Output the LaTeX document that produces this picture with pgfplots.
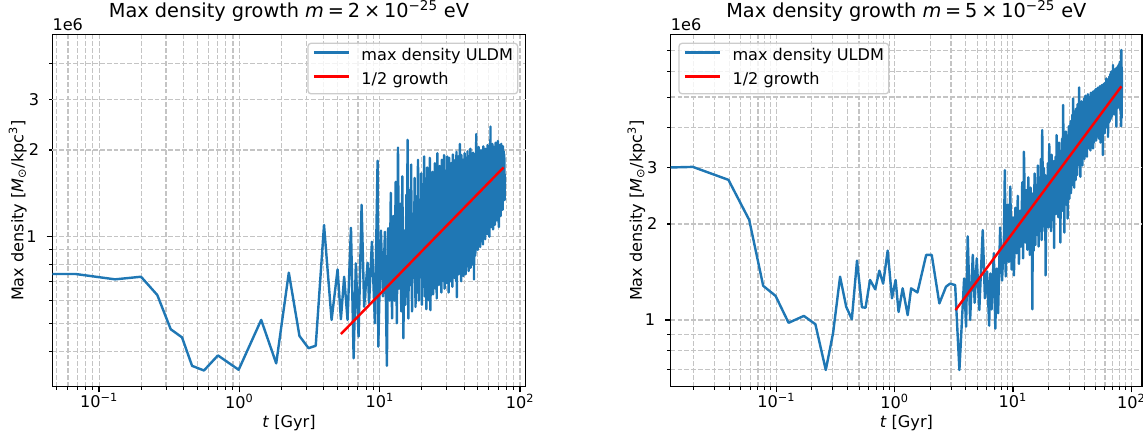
\documentclass[border=0pt]{standalone}
\usepackage{fontspec}
\setmainfont{DejaVu Sans}
\usepackage{pgfplots}
\usepackage{pgfplotstable}
\pgfplotsset{compat=1.18}

\definecolor{mplblue}{HTML}{1F77B4}
\definecolor{gridgray}{HTML}{C4C4C4}
\definecolor{legendedge}{HTML}{CCCCCC}

\newcommand{\labelfont}{\fontsize{11.6}{13.9}\selectfont}
\newcommand{\titlefont}{\fontsize{13.9}{16.7}\selectfont}
\newcommand{\decade}[1]{10\textsuperscript{#1}}

% maximum density, m = 2e-25 eV  (t in Gyr, rho in 1e6 Msun/kpc^3)
\pgfplotstableread[row sep=\\]{
t rho\\
0.030 0.742\\ 0.068 0.742\\ 0.130 0.711\\ 0.199 0.726\\ 0.260 0.627\\ 0.324 0.477\\ 0.390 0.447\\ 0.460 0.356\\
0.559 0.343\\ 0.703 0.387\\ 0.988 0.345\\ 1.43 0.514\\ 1.83 0.363\\ 2.25 0.750\\ 2.68 0.452\\ 3.11 0.410\\
3.50 0.418\\ 4.01 1.098\\ 4.54 0.514\\ 5.01 0.770\\ 5.29 0.517\\ 5.58 0.726\\ 5.90 0.514\\ 6.24 1.074\\
6.52 0.378\\ 6.76 0.808\\ 7.07 0.450\\ 7.43 1.290\\ 7.75 0.571\\ 8.20 0.812\\ 8.40 0.587\\ 8.80 0.960\\
9.24 0.500\\ 9.66 1.835\\ 9.77 0.415\\ 10.20 1.050\\ 10.55 0.620\\ 10.90 1.040\\ 11.25 0.356\\ 11.50 1.070\\
11.75 0.600\\
12.00 1.42\\ 12.25 0.52\\ 12.50 1.18\\ 12.75 0.60\\ 13.00 1.55\\ 13.25 0.50\\ 13.50 2.04\\ 13.75 0.66\\
14.00 1.30\\ 14.25 0.55\\ 14.50 1.62\\ 14.75 0.444\\ 15.00 1.05\\ 15.25 0.58\\ 15.50 1.40\\ 15.60 0.62\\
15.80 2.17\\ 16.00 0.52\\ 16.25 1.45\\ 16.50 0.68\\ 16.75 1.78\\ 17.00 0.55\\ 17.25 1.20\\ 17.50 0.72\\
17.75 1.60\\ 18.00 0.57\\ 18.25 1.38\\ 18.50 0.64\\ 18.75 1.85\\ 19.00 0.60\\ 19.25 1.10\\ 19.50 0.78\\
19.75 1.66\\ 20.00 0.58\\ 20.25 1.52\\ 20.50 0.70\\ 20.75 1.90\\ 21.00 0.62\\ 21.25 1.25\\ 21.50 0.56\\
21.75 1.74\\ 22.00 0.80\\ 22.25 1.42\\ 22.50 0.60\\ 22.75 1.88\\ 23.00 0.556\\ 23.25 1.30\\ 23.50 0.74\\
23.75 1.68\\ 24.00 0.63\\ 24.25 1.55\\ 24.50 0.85\\ 24.75 1.80\\ 25.00 0.66\\ 25.25 1.40\\ 25.50 0.61\\
25.75 1.95\\ 26.00 0.72\\ 26.25 1.48\\ 26.50 0.68\\ 26.75 1.76\\ 27.00 0.90\\ 27.25 1.60\\ 27.50 0.64\\
27.75 1.85\\ 28.00 0.78\\ 28.25 1.35\\ 28.50 0.70\\ 28.75 1.92\\ 29.00 0.66\\ 29.25 1.58\\ 29.50 0.82\\
29.75 1.70\\ 30.00 0.69\\ 30.25 1.90\\ 30.50 0.75\\ 30.75 1.45\\ 31.00 0.64\\ 31.25 1.88\\ 31.50 0.92\\
31.75 1.62\\ 32.00 0.70\\ 32.25 1.80\\ 32.50 0.78\\ 32.75 1.50\\ 33.00 0.67\\ 33.25 1.93\\ 33.50 0.88\\
33.75 1.66\\ 34.00 0.72\\ 34.25 1.84\\ 34.50 0.80\\ 34.75 1.55\\ 35.00 0.70\\ 35.25 1.97\\ 35.50 0.616\\
35.75 1.72\\ 36.00 0.85\\ 36.25 1.90\\ 36.50 0.74\\ 36.75 1.60\\ 37.00 0.95\\ 37.25 2.10\\ 37.50 0.76\\
37.75 1.78\\ 38.00 0.70\\ 38.25 1.92\\ 38.50 0.88\\ 38.75 1.65\\ 39.00 0.78\\ 39.25 1.85\\ 39.50 0.73\\
39.75 1.58\\ 40.00 0.98\\ 40.25 1.95\\ 40.50 0.80\\ 40.75 1.70\\ 41.00 0.74\\ 41.25 1.88\\ 41.50 1.02\\
41.75 1.62\\ 42.00 0.79\\ 42.25 1.98\\ 42.50 0.85\\ 42.75 1.75\\ 43.00 0.76\\ 43.25 1.90\\ 43.50 0.95\\
43.75 1.68\\ 44.00 0.82\\ 44.25 2.02\\ 44.50 0.78\\ 44.75 1.80\\ 45.00 1.05\\ 45.25 1.93\\ 45.50 0.84\\
45.75 1.72\\ 46.00 0.80\\ 46.25 1.96\\ 46.50 0.98\\ 46.75 1.66\\ 47.00 0.711\\ 47.25 1.88\\ 47.50 1.00\\
47.75 1.78\\ 48.00 0.86\\ 48.25 1.95\\ 48.50 0.92\\ 48.75 2.27\\ 49.00 0.95\\ 49.25 1.85\\ 49.50 1.02\\
49.75 1.96\\ 50.00 0.90\\ 50.25 1.80\\ 50.50 1.10\\ 50.75 2.05\\ 51.00 0.94\\ 51.25 1.72\\ 51.50 1.05\\
51.75 1.98\\ 52.00 0.92\\ 52.25 1.86\\ 52.50 1.15\\ 52.75 2.00\\ 53.00 0.98\\ 53.25 1.76\\ 53.50 1.08\\
53.75 1.94\\ 54.00 0.96\\ 54.25 1.82\\ 54.50 0.94\\ 54.75 2.06\\ 55.00 1.12\\ 55.25 1.88\\ 55.50 1.00\\
55.75 1.97\\ 56.00 1.18\\ 56.25 1.80\\ 56.50 0.98\\ 56.75 2.02\\ 57.00 1.10\\ 57.25 1.90\\ 57.50 1.04\\
57.75 1.95\\ 58.00 1.20\\ 58.25 1.84\\ 58.50 1.02\\ 58.75 2.08\\ 59.00 1.14\\ 59.25 1.92\\ 59.50 1.06\\
59.75 1.98\\ 60.00 1.22\\ 60.25 1.86\\ 60.50 1.00\\ 60.75 2.04\\ 61.00 1.16\\ 61.25 1.90\\ 61.40 1.10\\
61.60 2.41\\ 61.75 1.20\\ 62.00 1.95\\ 62.25 1.08\\ 62.50 2.00\\ 62.75 1.25\\ 63.00 1.88\\ 63.25 1.12\\
63.50 2.10\\ 63.75 1.30\\ 64.00 1.92\\ 64.25 1.06\\ 64.50 1.98\\ 64.75 1.22\\ 65.00 2.05\\ 65.25 1.15\\
65.50 1.90\\ 65.75 1.28\\ 66.00 2.02\\ 66.25 1.10\\ 66.50 1.96\\ 66.75 1.32\\ 67.00 2.12\\ 67.25 1.18\\
67.50 1.94\\ 67.75 1.26\\ 68.00 2.06\\ 68.25 1.14\\ 68.50 1.98\\ 68.75 1.35\\ 69.00 2.00\\ 69.25 1.20\\
69.50 2.15\\ 69.75 1.30\\ 70.00 1.92\\ 70.25 1.12\\ 70.50 2.03\\ 70.75 1.08\\ 71.00 1.96\\ 71.25 1.28\\
71.50 2.08\\ 71.75 1.22\\ 72.00 1.94\\ 72.25 1.36\\ 72.50 2.02\\ 72.75 1.18\\ 73.00 1.97\\ 73.25 1.32\\
73.50 2.10\\ 73.75 1.25\\ 74.00 1.90\\ 74.25 1.38\\ 74.50 2.04\\ 74.75 1.30\\ 75.00 1.95\\ 75.25 1.24\\
75.50 2.06\\ 75.75 1.40\\ 76.00 1.92\\ 76.25 1.34\\ 76.50 1.98\\ 76.75 1.36\\ 77.00 1.94\\ 77.25 1.42\\
77.50 1.88\\ 77.75 1.34\\ 78.00 1.62\\
}\densityA

% maximum density, m = 5e-25 eV
\pgfplotstableread[row sep=\\]{
t rho\\
0.010 3.00\\ 0.0197 3.02\\ 0.0394 2.75\\ 0.059 2.06\\ 0.0775 1.28\\ 0.0986 1.19\\ 0.127 0.98\\ 0.171 1.03\\
0.214 0.97\\ 0.262 0.697\\ 0.302 0.91\\ 0.346 1.367\\ 0.390 1.10\\ 0.435 1.005\\ 0.481 1.535\\ 0.530 1.096\\
0.568 1.093\\ 0.620 1.335\\ 0.686 1.248\\ 0.743 1.428\\ 0.800 1.30\\ 0.874 1.65\\ 0.950 1.17\\ 1.020 1.335\\
1.080 1.06\\ 1.170 1.257\\ 1.290 1.036\\ 1.380 1.257\\ 1.560 1.22\\ 1.850 1.60\\ 2.060 1.60\\ 2.390 1.127\\
2.720 1.272\\ 2.940 1.30\\ 3.250 1.287\\ 3.530 0.697\\ 3.870 1.35\\ 4.020 0.953\\ 4.150 1.83\\ 4.350 1.00\\
4.580 1.60\\ 4.750 1.133\\ 4.950 1.56\\ 5.200 1.075\\ 5.560 1.915\\ 5.800 1.17\\ 6.050 1.42\\ 6.300 0.96\\
6.450 1.40\\ 6.600 1.08\\ 6.900 1.62\\ 7.100 0.94\\ 7.300 1.45\\ 7.500 1.05\\ 7.800 1.95\\ 8.100 1.33\\
8.400 1.82\\ 8.550 2.95\\ 8.700 1.37\\
9.00 2.30\\ 9.25 1.52\\ 9.50 2.62\\ 9.75 1.44\\ 10.00 2.10\\ 10.20 1.38\\ 10.50 2.25\\ 10.75 1.62\\
11.00 2.45\\ 11.25 1.50\\ 11.50 2.20\\ 11.75 1.70\\ 12.00 2.70\\ 12.20 1.56\\ 12.40 3.37\\ 12.75 1.75\\
13.00 2.55\\ 13.25 1.66\\ 13.50 2.80\\ 13.90 1.60\\ 14.10 2.60\\ 14.35 1.85\\ 14.45 2.50\\ 14.60 1.08\\
14.75 2.20\\ 15.00 1.65\\ 15.25 2.88\\ 15.50 1.72\\ 15.75 2.65\\ 16.00 1.85\\ 16.25 3.05\\ 16.50 1.70\\
16.75 2.75\\ 17.00 2.00\\ 17.25 3.20\\ 17.50 1.78\\ 17.70 3.94\\ 18.00 2.10\\ 18.25 3.00\\ 18.50 1.90\\
18.75 2.85\\ 18.90 1.38\\ 19.25 2.70\\ 19.50 2.05\\ 19.75 3.10\\ 20.00 1.95\\ 20.30 3.56\\ 20.50 2.20\\
20.75 3.05\\ 21.00 1.90\\ 21.25 3.30\\ 21.50 2.25\\ 21.75 2.95\\ 22.00 2.05\\ 22.15 3.15\\ 22.30 1.68\\
22.50 3.00\\ 22.75 2.30\\ 23.00 3.25\\ 23.20 2.15\\ 23.40 3.80\\ 23.75 2.40\\ 24.00 3.35\\ 24.25 2.10\\
24.50 3.60\\ 24.75 2.30\\ 25.00 3.10\\ 25.20 1.75\\ 25.50 3.40\\ 25.75 2.45\\ 26.00 3.70\\ 26.25 2.20\\
26.60 4.72\\ 26.90 2.60\\ 27.05 3.30\\ 27.20 1.88\\ 27.50 3.50\\ 27.75 2.50\\ 28.00 3.90\\ 28.25 2.30\\
28.50 3.65\\ 28.75 2.55\\ 28.90 3.40\\ 29.00 2.08\\ 29.25 3.80\\ 29.50 2.60\\ 29.75 4.05\\ 30.00 2.40\\
30.25 3.70\\ 30.50 2.75\\ 30.75 4.20\\ 31.00 2.50\\ 31.25 3.90\\ 31.50 2.85\\ 31.75 4.40\\ 32.00 2.65\\
32.30 4.95\\ 32.50 2.90\\ 32.75 4.10\\ 33.00 2.60\\ 33.25 4.50\\ 33.50 3.00\\ 33.75 4.25\\ 34.00 2.75\\
34.25 4.60\\ 34.50 3.10\\ 34.75 4.30\\ 35.00 2.85\\ 35.25 4.75\\ 35.50 3.05\\ 35.75 4.40\\ 36.00 3.20\\
36.30 5.36\\ 36.60 3.30\\ 36.90 4.50\\ 37.20 2.81\\ 37.50 4.50\\ 37.75 3.15\\ 38.00 4.85\\ 38.25 3.40\\
38.50 4.30\\ 38.75 3.05\\ 39.00 4.70\\ 39.25 3.30\\ 39.50 4.55\\ 39.75 3.50\\ 40.00 4.95\\ 40.25 3.20\\
40.50 4.60\\ 40.75 3.60\\ 41.00 5.05\\ 41.25 3.35\\ 41.50 4.45\\ 41.75 3.70\\ 42.00 4.90\\ 42.25 3.25\\
42.50 4.70\\ 42.75 3.80\\ 43.00 5.10\\ 43.25 3.45\\ 43.50 4.60\\ 43.75 3.65\\ 44.00 4.90\\ 44.25 3.50\\
44.50 5.00\\ 44.75 3.85\\ 45.00 4.75\\ 45.25 3.40\\ 45.50 5.15\\ 45.75 3.75\\ 46.00 4.65\\ 46.25 3.55\\
46.50 5.05\\ 46.75 3.90\\ 47.00 4.80\\ 47.25 3.70\\ 47.45 5.20\\ 47.60 3.45\\ 47.75 4.70\\ 48.00 3.80\\
48.25 5.10\\ 48.50 3.60\\ 48.75 4.85\\ 49.00 3.95\\ 49.25 5.25\\ 49.50 3.70\\ 49.75 4.75\\ 50.00 4.00\\
50.25 5.30\\ 50.50 3.65\\ 50.75 4.90\\ 51.00 3.90\\ 51.25 5.15\\ 51.50 3.75\\ 51.75 5.00\\ 52.00 4.05\\
52.25 5.35\\ 52.50 3.80\\ 52.75 4.80\\ 53.00 3.95\\ 53.25 5.20\\ 53.50 3.70\\ 53.75 5.05\\ 54.00 4.10\\
54.25 5.40\\ 54.50 3.85\\ 54.75 4.95\\ 55.00 3.60\\ 55.25 5.25\\ 55.50 4.00\\ 55.75 5.10\\ 56.00 3.75\\
56.25 5.45\\ 56.50 4.15\\ 56.75 4.90\\ 57.00 3.90\\ 57.25 5.30\\ 57.70 3.29\\ 58.00 5.00\\ 58.25 4.10\\
58.50 5.50\\ 58.75 3.95\\ 59.00 5.15\\ 59.25 4.20\\ 59.50 5.35\\ 59.75 3.85\\ 60.00 5.05\\ 60.25 4.25\\
60.50 5.55\\ 60.75 4.00\\ 61.00 5.20\\ 61.25 4.30\\ 61.70 5.72\\ 62.00 4.05\\ 62.25 5.30\\ 62.50 4.35\\
62.75 5.60\\ 63.00 4.10\\ 63.25 5.25\\ 63.70 3.75\\ 64.00 5.45\\ 64.25 4.40\\ 64.50 5.70\\ 64.75 4.15\\
65.00 5.35\\ 65.25 4.50\\ 65.50 5.80\\ 65.75 4.20\\ 66.00 5.50\\ 66.25 4.45\\ 66.50 5.90\\ 66.75 4.25\\
67.00 5.40\\ 67.25 4.60\\ 67.50 6.00\\ 67.75 4.30\\ 68.00 5.65\\ 68.25 4.55\\ 68.50 5.85\\ 68.75 4.35\\
69.00 5.55\\ 69.25 4.70\\ 69.50 6.05\\ 69.75 4.40\\ 70.20 6.30\\ 70.50 4.60\\ 70.75 5.70\\ 71.00 4.45\\
71.25 5.95\\ 71.50 4.75\\ 71.75 5.60\\ 72.00 4.50\\ 72.25 6.10\\ 72.50 4.80\\ 72.75 5.75\\ 73.00 4.40\\
73.25 6.00\\ 73.50 4.85\\ 73.75 5.80\\ 74.00 4.55\\ 74.25 6.15\\ 74.50 4.90\\ 74.75 5.70\\ 75.00 4.04\\
75.25 6.05\\ 75.50 4.75\\ 75.75 5.85\\ 76.00 4.60\\ 76.25 6.20\\ 76.50 4.95\\ 76.75 5.90\\ 77.00 4.70\\
77.25 6.25\\ 77.50 5.00\\ 77.75 5.95\\ 78.00 4.65\\ 78.25 6.30\\ 78.50 5.05\\ 78.75 6.00\\ 79.00 4.80\\
79.25 6.35\\ 79.50 5.10\\ 79.75 4.85\\ 80.00 6.45\\ 80.25 5.00\\ 80.50 6.15\\ 80.75 4.55\\ 81.00 6.40\\
81.25 5.15\\ 81.50 6.10\\ 81.75 4.40\\ 82.00 6.30\\ 82.25 4.05\\ 82.60 7.02\\ 83.00 4.30\\ 83.25 6.20\\
83.50 5.00\\
}\densityB

\pgfplotsset{
  densitylook/.style={
    scale only axis,
    height=253.73pt,
    axis line style={black, line width=0.93pt},
    tick align=outside,
    tick pos=left,
    major tick length=4.06pt,
    minor tick length=2.32pt,
    every tick/.append style={black, line width=0.93pt},
    every minor tick/.append style={line width=0.7pt},
    grid=both,
    major grid style={gridgray, line width=0.8pt, dash pattern=on 3.43pt off 1.48pt},
    minor grid style={gridgray, line width=0.8pt, dash pattern=on 3.43pt off 1.48pt},
    xtick={0.1,1,10,100},
    xticklabels={\decade{−1},\decade{0},\decade{1},\decade{2}},
    ytick={1}, yticklabels={1},
    extra y ticks={2,3}, extra y tick labels={2,3},
    extra y tick style={major tick length=2.32pt},
    ticklabel style={font=\labelfont, inner sep=0pt},
    xticklabel style={anchor=north, yshift=-0.8pt},
    yticklabel style={anchor=east, xshift=-7pt},
    xlabel={\textit{t} [Gyr]},
    ylabel={Max density [\textit{M}\textsubscript{⊙}/kpc\textsuperscript{3}]},
    xlabel style={at={(axis description cs:0.5,-0.0804)}, anchor=north, inner sep=0pt, font=\labelfont},
    ylabel style={at={(axis description cs:-0.0536,0.5)}, anchor=south, inner sep=0pt, font=\labelfont},
    title style={at={(axis description cs:0.5,1.0236)}, anchor=base, inner sep=0pt, font=\titlefont},
    legend cell align=left,
    legend image code/.code={\draw[##1] (0pt,3pt) -- (25pt,3pt);},
    legend style={
      draw=legendedge, line width=0.93pt, rounded corners=2.3pt,
      fill=white, fill opacity=0.8, text opacity=1,
      inner xsep=3.4pt, inner ysep=3.75pt,
      font=\labelfont,
      row sep=5.7pt, column sep=8.4pt,
      nodes={inner sep=0pt, text height=8.8pt, text depth=2.8pt},
    },
  },
  uldm/.style={mplblue, line width=1.74pt, line join=round},
  halfgrowth/.style={red, line width=1.74pt},
}

\begin{document}
\begin{tikzpicture}
\useasboundingbox (0,0) rectangle (822.96pt,311.76pt);

\begin{axis}[
  xmode=log, ymode=log,
  densitylook,
  at={(37.66pt,33.34pt)}, anchor=south west,
  width=340.85pt,
  xmin=0.0464, xmax=109.8,
  ymin=0.3013, ymax=5.045,
  minor xtick={0.05,0.06,0.07,0.08,0.09,0.2,0.3,0.4,0.5,0.6,0.7,0.8,0.9,2,3,4,5,6,7,8,9,20,30,40,50,60,70,80,90},
  minor ytick={0.4,0.5,0.6,0.7,0.8,0.9,4},
  title={Max density growth \textit{m}\hspace{0.2em}=\hspace{0.2em}2\hspace{0.2em}×\hspace{0.2em}\decade{−25} eV},
  legend style={at={(axis description cs:1,1)}, anchor=north east, xshift=-5.3pt, yshift=-6pt},
]
\addplot[uldm] table[x=t, y=rho] {\densityA};
\addlegendentry{max density ULDM}
\addplot[halfgrowth] coordinates {(5.29,0.459) (76.4,1.74)};
\addlegendentry{1/2 growth}
\end{axis}
\node[anchor=base west, inner sep=0pt, font=\labelfont] at (37.66pt,289.45pt) {1e6};

\begin{axis}[
  xmode=log, ymode=log,
  densitylook,
  at={(482.90pt,33.34pt)}, anchor=south west,
  width=339.34pt,
  xmin=0.0128, xmax=123.4,
  ymin=0.618, ymax=7.865,
  minor xtick={0.02,0.03,0.04,0.05,0.06,0.07,0.08,0.09,0.2,0.3,0.4,0.5,0.6,0.7,0.8,0.9,2,3,4,5,6,7,8,9,20,30,40,50,60,70,80,90},
  minor ytick={0.7,0.8,0.9,4,5,6,7},
  title={Max density growth \textit{m}\hspace{0.2em}=\hspace{0.2em}5\hspace{0.2em}×\hspace{0.2em}\decade{−25} eV},
  legend style={at={(axis description cs:0,1)}, anchor=north west, xshift=5.5pt, yshift=-6pt},
]
\addplot[uldm] table[x=t, y=rho] {\densityB};
\addlegendentry{max density ULDM}
\addplot[halfgrowth] coordinates {(3.28,1.075) (82.6,5.40)};
\addlegendentry{1/2 growth}
\end{axis}
\node[anchor=base west, inner sep=0pt, font=\labelfont] at (482.90pt,289.45pt) {1e6};
\end{tikzpicture}
\end{document}
